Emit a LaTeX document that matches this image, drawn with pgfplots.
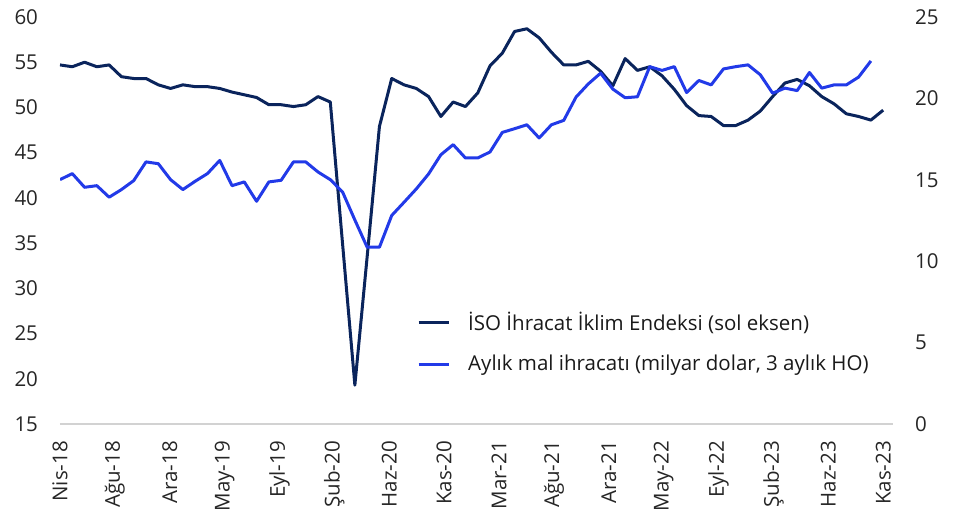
\documentclass[border=0pt]{standalone}
\usepackage{pgfplots}
\pgfplotsset{compat=1.18}
\usepackage{fontspec}
\setmainfont{Open Sans}
\definecolor{navy}{RGB}{10,36,92}
\definecolor{brightblue}{RGB}{34,58,232}
\definecolor{ticktext}{RGB}{38,38,38}
\begin{document}
\fontsize{20.5}{24}\selectfont
\begin{tikzpicture}
\pgfplotsset{
  every axis/.append style={
    scale only axis, width=833pt, height=407pt,
    xmin=0, xmax=67.8,
    major tick length=0pt,
    tick label style={font=\fontsize{20.5}{24}\selectfont, text=ticktext},
    /pgf/number format/assume math mode=true,
  }
}
\begin{axis}[
  ymin=15, ymax=60,
  ytick={15,20,...,60},
  axis x line*=bottom, axis y line*=left,
  y axis line style={draw=none},
  x axis line style={draw=gray!35, line width=1.2pt},
  xtick={0,4.4667,8.9333,13.4,17.8667,22.3333,26.8,31.2667,35.7333,40.2,44.6667,49.1333,53.6,58.0667,62.5333,67},
  xticklabels={Nis-18,Ağu-18,Ara-18,May-19,Eyl-19,Şub-20,Haz-20,Kas-20,Mar-21,Ağu-21,Ara-21,May-22,Eyl-22,Şub-23,Haz-23,Kas-23},
  xticklabel style={rotate=90, anchor=east, xshift=-10pt},
  yticklabel style={anchor=east, xshift=-15pt},
]
\addplot[navy, line width=3pt, line join=round] coordinates {
(0,54.7)(1,54.5)(2,55.0)(3,54.5)(4,54.7)(5,53.4)(6,53.2)(7,53.2)(8,52.5)(9,52.1)
(10,52.5)(11,52.3)(12,52.3)(13,52.1)(14,51.7)(15,51.4)(16,51.1)(17,50.3)(18,50.3)(19,50.1)
(20,50.3)(21,51.2)(22,50.6)(23,34.9)(24,19.3)(25,33.5)(26,47.9)(27,53.2)(28,52.5)(29,52.1)
(30,51.2)(31,49.0)(32,50.6)(33,50.1)(34,51.6)(35,54.6)(36,56.0)(37,58.4)(38,58.7)(39,57.7)
(40,56.1)(41,54.7)(42,54.7)(43,55.1)(44,54.0)(45,52.4)(46,55.4)(47,54.1)(48,54.5)(49,53.5)
(50,52.0)(51,50.2)(52,49.1)(53,49.0)(54,48.0)(55,48.0)(56,48.6)(57,49.6)(58,51.2)(59,52.7)
(60,53.1)(61,52.4)(62,51.2)(63,50.4)(64,49.3)(65,49.0)(66,48.6)(67,49.7)
};
\end{axis}
\begin{axis}[
  ymin=0, ymax=25,
  ytick={0,5,...,25},
  axis y line*=right,
  axis x line=none,
  y axis line style={draw=none},
  yticklabel style={anchor=west, xshift=15pt},
  legend style={at={(0.425,0.285)}, anchor=north west, draw=none, fill=none,
    font=\fontsize{20.5}{24}\selectfont, text=black!90, row sep=17pt,
    /tikz/every odd column/.append style={column sep=16pt}},
  legend cell align=left,
  legend image code/.code={\draw[#1] (0pt,0pt) -- (30pt,0pt);},
]
\addlegendimage{navy, line width=3pt}
\addlegendentry{İSO İhracat İklim Endeksi (sol eksen)}
\addplot[brightblue, line width=3pt, line join=round] coordinates {
(0,15.01)(1,15.38)(2,14.54)(3,14.64)(4,13.93)(5,14.40)(6,14.95)(7,16.10)(8,15.99)(9,15.01)
(10,14.40)(11,14.91)(12,15.38)(13,16.19)(14,14.64)(15,14.87)(16,13.68)(17,14.87)(18,14.97)(19,16.10)
(20,16.10)(21,15.48)(22,15.01)(23,14.25)(24,12.53)(25,10.86)(26,10.86)(27,12.81)(28,13.62)(29,14.44)
(30,15.36)(31,16.54)(32,17.16)(33,16.34)(34,16.34)(35,16.71)(36,17.91)(37,18.14)(38,18.38)(39,17.57)
(40,18.38)(41,18.65)(42,20.08)(43,20.89)(44,21.55)(45,20.57)(46,20.04)(47,20.10)(48,21.95)(49,21.72)
(50,21.95)(51,20.36)(52,21.10)(53,20.83)(54,21.81)(55,21.95)(56,22.06)(57,21.45)(58,20.32)(59,20.63)
(60,20.48)(61,21.59)(62,20.63)(63,20.83)(64,20.83)(65,21.31)(66,22.30)
};
\addlegendentry{Aylık mal ihracatı (milyar dolar, 3 aylık HO)}
\end{axis}
\useasboundingbox (current axis.south west) ++(-60pt,-88pt) rectangle ++(966pt,512pt);
\end{tikzpicture}
\end{document}
